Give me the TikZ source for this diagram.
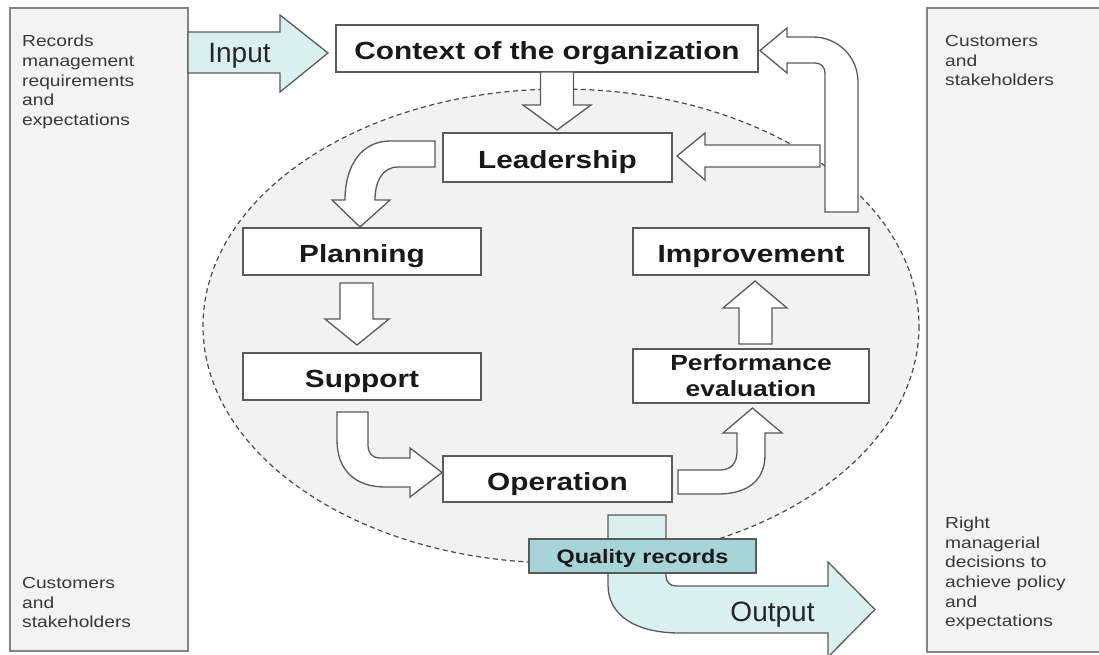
\documentclass[tikz,border=0pt]{standalone}
\usepackage{fontspec}
\setmainfont{Liberation Sans}
\newfontfamily\stretchfont[FakeStretch=1.2]{Liberation Sans}
\newfontfamily\plainfont{Liberation Sans}
\definecolor{panelfill}{HTML}{F3F3F3}
\definecolor{panelline}{HTML}{858585}
\definecolor{paneltxt}{HTML}{383838}
\definecolor{ellfill}{HTML}{F2F2F2}
\definecolor{elline}{HTML}{4A4A4A}
\definecolor{boxline}{HTML}{5A5A5A}
\definecolor{flowfill}{HTML}{DAEFEF}
\definecolor{qualfill}{HTML}{A7D4D7}
\begin{document}
\begin{tikzpicture}[x=1pt,y=-1pt,
  panel/.style={draw=panelline, fill=panelfill, line width=1.5pt},
  paneltext/.style={anchor=north west, inner sep=0pt, align=left, text=paneltxt,
    font=\stretchfont\fontsize{16}{19.7}\selectfont},
  box/.style={draw=boxline, fill=white, line width=1.4pt, inner sep=0pt,
    font=\stretchfont\bfseries\fontsize{24.8}{28}\selectfont, text=black!90},
  oneline/.style={text height=22.8pt, text depth=0pt},
  blockarrow/.style={draw=boxline, fill=white, line width=1.3pt, line join=miter},
  flowarrow/.style={blockarrow, fill=flowfill},
  flowtext/.style={anchor=base, inner sep=0pt, text=black!85,
    font=\plainfont\fontsize{28}{30}\selectfont}
]
\useasboundingbox (0,0) rectangle (1099,655);
\fill[white] (0,0) rectangle (1099,655);

% side panels
\draw[panel] (10,8) rectangle (188,651);
\draw[panel] (927,8) rectangle (1110,652);
\node[paneltext] (lt) at (22,35) {Records\\management\\requirements\\and\\expectations};
\node[paneltext] (lb) at (22,577) {Customers\\and\\stakeholders};
\node[paneltext] (rt) at (945,35) {Customers\\and\\stakeholders};
\node[paneltext] (rb) at (945,516.5) {Right\\managerial\\decisions to\\achieve policy\\and\\expectations};

% dashed ellipse
\draw[fill=ellfill, draw=elline, line width=1.2pt, dash pattern=on 5pt off 3.5pt]
  (561,326) ellipse [x radius=358, y radius=237];

% input arrow
\draw[flowarrow] (188,32) -- (280,32) -- (280,15) -- (328,53) -- (280,92) -- (280,73) -- (188,73) -- cycle;
\node[flowtext] (inp) at (239.5,63) {Input};

% boxes
\node[box, oneline, minimum width=422pt, minimum height=47pt] (ctx) at (547,48.5) {Context of the organization};
\node[box, oneline, minimum width=229pt, minimum height=49pt] (lead) at (557.5,157.5) {Leadership};
\node[box, oneline, minimum width=238pt, minimum height=47pt] (plan) at (362,251.5) {Planning};
\node[box, oneline, minimum width=238pt, minimum height=47pt] (supp) at (362,376.5) {Support};
\node[box, oneline, minimum width=229pt, minimum height=46pt] (oper) at (557.5,479) {Operation};
\node[box, align=center, minimum width=236pt, minimum height=54pt,
  font=\stretchfont\bfseries\fontsize{22}{26}\selectfont] (perf) at (751,376) {Performance\\evaluation};
\node[box, oneline, minimum width=236pt, minimum height=47pt] (impr) at (751,251.5) {Improvement};

% context -> leadership
\draw[blockarrow] (540.5,72) -- (573.5,72) -- (573.5,105) -- (591,105) -- (557,130) -- (523,105) -- (540.5,105) -- cycle;
% loop back to context
\draw[blockarrow] (858,212) -- (858,82) .. controls (858,57) and (838,37) .. (813,37) -- (787,37) -- (787,28)
  -- (760,50.5) -- (787,73) -- (787,63) -- (815,63) .. controls (821,63) and (825,67) .. (825,73) -- (825,212) -- cycle;
% into leadership from right
\draw[blockarrow] (820,145) -- (705,145) -- (705,133) -- (677,156) -- (705,180) -- (705,167) -- (820,167) -- cycle;
% leadership -> planning
\draw[blockarrow] (435,141) -- (390,141) .. controls (362,141) and (345,165) .. (345,200) -- (332,200) -- (360,227)
  -- (390,200) -- (375,200) .. controls (375,182) and (382,167) .. (398,167) -- (435,167) -- cycle;
% planning -> support
\draw[blockarrow] (340,283) -- (373,283) -- (373,319) -- (389,319) -- (357,345) -- (325,319) -- (340,319) -- cycle;
% support -> operation
\draw[blockarrow] (337,412) -- (337,440) .. controls (337,470) and (355,487) .. (385,487) -- (410,487) -- (410,497)
  -- (442,472.5) -- (410,448) -- (410,458) -- (380,458) .. controls (372,458) and (368,453) .. (368,445) -- (368,412) -- cycle;
% operation -> performance
\draw[blockarrow] (678,470) -- (720,470) .. controls (731,470) and (737,463) .. (737,452) -- (737,433) -- (723,433)
  -- (752.5,408) -- (782,433) -- (765,433) -- (765,455) .. controls (765,480) and (748,494) .. (718,494) -- (678,494) -- cycle;
% performance -> improvement
\draw[blockarrow] (739,344) -- (739,308) -- (723,308) -- (755,281) -- (787,308) -- (772,308) -- (772,344) -- cycle;

% output arrow
\draw[flowarrow] (608,515) -- (608,585) .. controls (608,615) and (635,633) .. (680,633) -- (828,633) -- (828,657)
  -- (875,609.5) -- (828,562) -- (828,586) -- (676,586) .. controls (670,586) and (666,582) .. (666,576) -- (666,515) -- cycle;
\node[flowtext] (outp) at (772.5,621) {Output};

% quality records
\node[box, oneline, fill=qualfill, minimum width=227pt, minimum height=34pt,
  text height=14pt, font=\stretchfont\bfseries\fontsize{19.5}{22}\selectfont] (qual) at (642.5,556) {Quality records};
\end{tikzpicture}
\end{document}
